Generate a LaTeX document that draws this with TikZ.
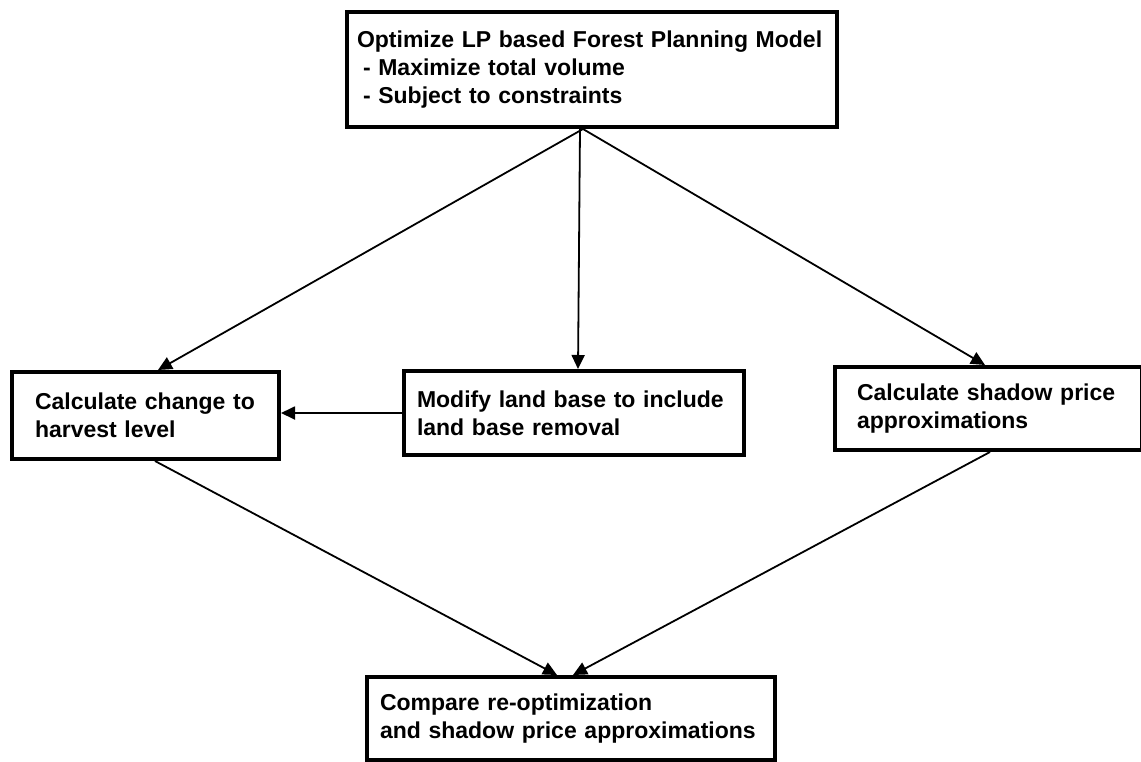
\documentclass[tikz,border=0pt]{standalone}
\usepackage{fontspec}
\setmainfont{Liberation Sans}
\usepackage{tikz}
\usetikzlibrary{arrows.meta}
\usetikzlibrary{positioning,calc}
\tikzset{
    planBox/.style={
        ,   draw
        ,   line width=2pt
        ,   anchor=north west
        ,   align=left
        ,   inner ysep=0pt
        ,   text = black
    },
    flowLine/.style={
        ,   ->
        ,   line width=0.9pt
    }
}

\begin{document}
\begin{tikzpicture}[x=0.5pt,y=-0.5pt
				,>={Triangle[length=7pt, width=6.5pt]}
				,font={\fontsize{11.5pt}{14pt}\selectfont\bfseries}]
		\useasboundingbox (0,0) rectangle (1141,761);

		% boxes
		\node[planBox, minimum width=245pt, minimum height=57.5pt
				, inner xsep=5pt, text width=235pt] (optModel) at (345,10)
				{Optimize LP based Forest Planning Model\\
				 \hspace*{3pt}- Maximize total volume\\
				 \hspace*{3pt}- Subject to constraints};
		\node[planBox, minimum width=133.5pt, minimum height=43.5pt
				, inner xsep=11.5pt, text width=110.5pt] (harvestChange) at (10,370)
				{Calculate change to\\harvest level};
		\node[planBox, minimum width=170pt, minimum height=42pt
				, inner xsep=6.5pt, text width=157pt] (landBase) at (402,369)
				{Modify land base to include\\land base removal};
		\node[planBox, minimum width=153.5pt, minimum height=41.5pt
				, inner xsep=11pt, text width=131.5pt] (shadowPrice) at (833,365)
				{Calculate shadow price\\approximations};
		\node[planBox, minimum width=204pt, minimum height=41.5pt
				, inner xsep=6.5pt, text width=191pt] (compare) at (365,675)
				{Compare re-optimization\\and shadow price approximations};

		% connectors
		\draw[flowLine] (optModel.south -| 583,0) -- (harvestChange.north -| 158,0);
		\draw[flowLine] (optModel.south -| 580,0) -- (landBase.north -| 578,0);
		\draw[flowLine] (optModel.south -| 583,0) -- (shadowPrice.north -| 985,0);
		\draw[flowLine] (landBase.west) -- (harvestChange.east |- landBase.west);
		\draw[flowLine] (harvestChange.south -| 155,0) -- (compare.north -| 557,0);
		\draw[flowLine] (shadowPrice.south -| 990,0) -- (compare.north -| 573,0);
\end{tikzpicture}
\end{document}
